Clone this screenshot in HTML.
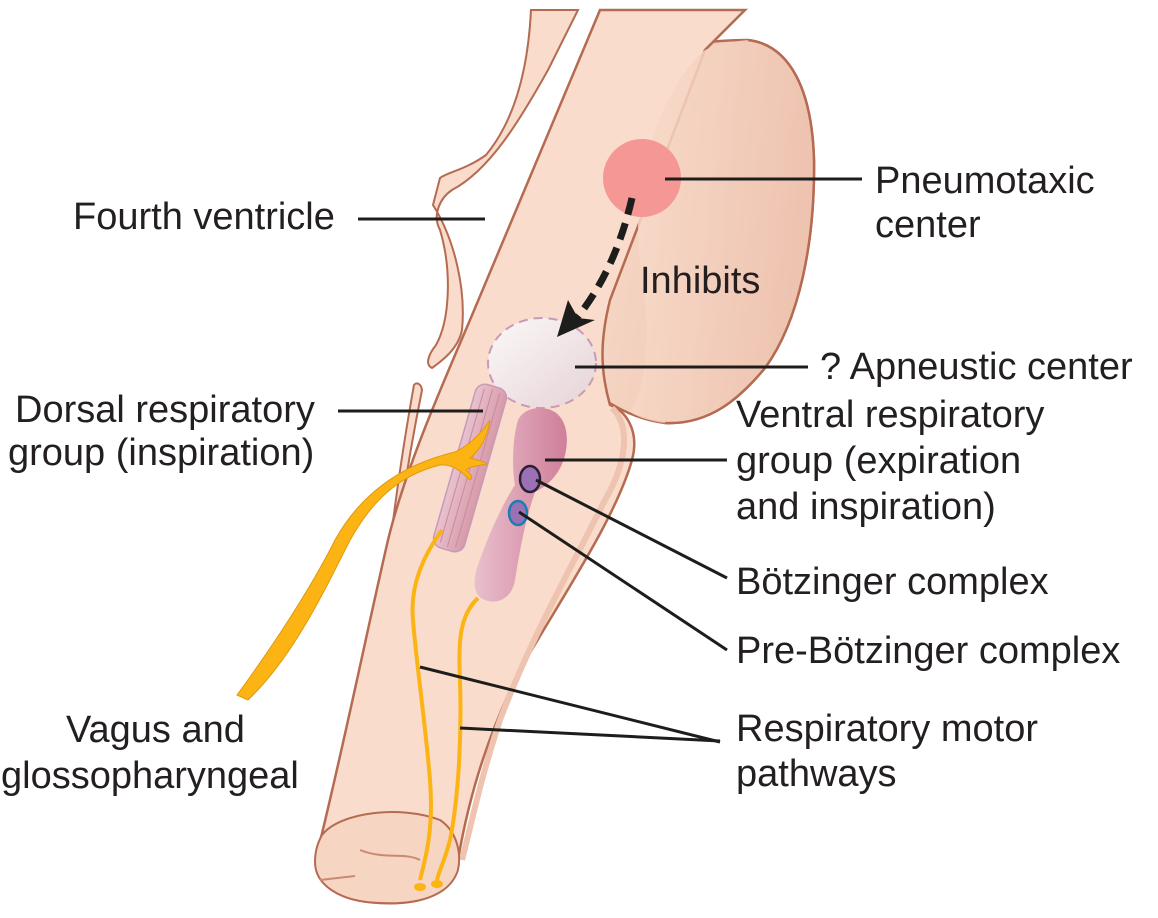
<!DOCTYPE html>
<html><head><meta charset="utf-8"><style>
html,body{margin:0;padding:0;background:#fff}
svg{display:block}
text{font-family:"Liberation Sans",Arial,sans-serif;font-size:38px;fill:#231f20}
</style></head><body>
<svg width="1158" height="918" viewBox="0 0 1158 918" xmlns="http://www.w3.org/2000/svg">
<defs>
<linearGradient id="pons" x1="0" y1="0" x2="1" y2="0.2">
<stop offset="0" stop-color="#f9dccb"/><stop offset="1" stop-color="#eec3b0"/></linearGradient>
<linearGradient id="apn" x1="0" y1="0" x2="1" y2="1">
<stop offset="0" stop-color="#fbf8f8"/><stop offset="1" stop-color="#e6d3d6"/></linearGradient>
<linearGradient id="vrg" x1="0" y1="0" x2="1" y2="0">
<stop offset="0" stop-color="#e9bfcc"/><stop offset="1" stop-color="#cf7f9a"/></linearGradient>
<linearGradient id="drg" x1="0" y1="0" x2="1" y2="0">
<stop offset="0" stop-color="#e9c2cf"/><stop offset="1" stop-color="#d79aa8"/></linearGradient>
</defs>

<path d="M531,10 C528,70 515,120 486,155 C465,170 448,172 440,178 L433,205 C455,240 466,290 462,330 C458,350 440,362 432,368 C425,365 428,355 436,345 C450,320 452,270 440,230 C432,215 440,198 452,190 C490,170 520,120 548,70 L578,10 Z" fill="#f9dccb" stroke="#b56b52" stroke-width="2"/>
<path d="M414,385 C404,440 392,520 382,615 C385,618 388,614 390,600 C398,520 410,450 422,390 C421,383 416,382 414,385 Z" fill="#f9dccb" stroke="#b56b52" stroke-width="2"/>

<path d="M690,45 C705,42 725,40 748,40 C790,45 812,90 814,160 C815,240 800,320 765,368 C740,398 710,425 665,423 C640,420 620,410 605,400 L560,300 L600,60 Z" fill="url(#pons)" stroke="#b56b52" stroke-width="2.5"/>

<path d="M600,10 C570,80 520,200 470,320 C440,390 405,470 388,540 C365,640 345,740 318,850 C315,880 330,900 380,903 C420,905 455,895 458,860 C470,790 490,730 520,670 C560,600 615,520 632,460 C640,430 625,410 610,405 C600,370 600,340 610,300 L705,50 L745,10 Z" fill="#f9dccb" stroke="#b56b52" stroke-width="2.5"/>
<path d="M612,408 C630,425 628,460 605,500 C570,570 530,640 500,720 C480,780 470,830 462,860" fill="none" stroke="#eec3b0" stroke-width="6"/>
<path d="M705,50 C720,44 735,41 748,40 C790,45 812,90 814,160 C815,240 800,320 765,368 C740,398 710,425 665,423 C650,421 640,418 630,412 C650,380 650,320 640,260 C630,180 660,90 705,50 Z" fill="url(#pons)" opacity="0.85"/>
<path d="M748,40 C790,45 812,90 814,160 C815,240 800,320 765,368 C740,398 710,425 665,423" fill="none" stroke="#b56b52" stroke-width="2.5"/>

<path d="M322,835 C340,812 400,805 440,820 C455,830 462,850 458,870 C450,895 420,905 380,903 C340,902 315,885 315,862 C315,850 318,842 322,835 Z" fill="#f7d5c3" stroke="#b56b52" stroke-width="2"/>
<path d="M320,880 L355,876 M360,850 C385,860 405,852 420,860" stroke="#c98a74" stroke-width="2" fill="none"/>

<circle cx="642" cy="178" r="39" fill="#f49795"/>

<ellipse cx="542" cy="363" rx="54" ry="45" fill="url(#apn)" stroke="#c99ab8" stroke-width="2" stroke-dasharray="9,6"/>

<g transform="translate(470,468) rotate(16)">
<rect x="-16" y="-85" width="32" height="170" rx="10" fill="url(#drg)" stroke="#c79ab8" stroke-width="1.5"/>
<path d="M-8,-80 L-8,80 M0,-82 L0,82 M8,-80 L8,80" stroke="#c98aa0" stroke-width="1" fill="none"/>
</g>

<path d="M540,408 C560,408 570,425 566,450 C563,470 550,485 535,492 C525,520 520,550 515,580 C512,598 498,605 485,600 C472,595 473,580 478,565 C490,530 505,500 515,485 C512,470 512,440 518,420 C522,412 530,408 540,408 Z" fill="url(#vrg)"/>
<ellipse cx="530" cy="479" rx="10" ry="13" fill="#9b70b5" stroke="#2a2233" stroke-width="2.5"/>
<ellipse cx="518" cy="513" rx="9" ry="12" fill="#9b70b5" stroke="#1a7fb0" stroke-width="2.5"/>

<path d="M237,695 C270,650 310,590 335,540 C360,495 400,465 455,452 C470,445 482,432 490,420 C487,440 478,452 470,458 C478,460 485,462 487,464 C478,466 470,466 466,470 C472,475 473,478 470,480 C460,470 452,464 440,465 C400,475 370,500 345,550 C320,600 290,660 248,700 Z" fill="#fbb413" stroke="#e09a10" stroke-width="1"/>

<path d="M442,530 C420,560 410,590 413,620 C416,660 425,720 430,780 C434,830 425,860 420,880" fill="none" stroke="#fbb413" stroke-width="4"/>
<path d="M478,598 C460,615 458,640 460,680 C462,740 458,800 450,840 C445,860 440,868 437,880" fill="none" stroke="#fbb413" stroke-width="4"/>
<ellipse cx="420" cy="887" rx="6" ry="4" fill="#fbb413"/>
<ellipse cx="437" cy="884" rx="6" ry="4" fill="#fbb413"/>

<path d="M632,198 C620,250 600,290 575,320" fill="none" stroke="#1d1d1b" stroke-width="7" stroke-dasharray="17,9"/>
<polygon points="557,337 568,300 578,318 595,320" fill="#1d1d1b"/>

<g stroke="#1d1d1b" stroke-width="3" fill="none">
<line x1="358" y1="219" x2="485" y2="219"/>
<line x1="665" y1="179" x2="862" y2="179"/>
<line x1="575" y1="367" x2="808" y2="367"/>
<line x1="338" y1="411" x2="483" y2="411"/>
<line x1="545" y1="460" x2="727" y2="460"/>
<line x1="536" y1="480" x2="727" y2="578"/>
<line x1="519" y1="512" x2="727" y2="650"/>
<line x1="420" y1="667" x2="720" y2="742"/>
<line x1="460" y1="728" x2="720" y2="741"/>
</g>

<text x="73" y="229">Fourth ventricle</text>
<text x="875" y="193">Pneumotaxic</text>
<text x="875" y="237">center</text>
<text x="640" y="293">Inhibits</text>
<text x="820" y="379">? Apneustic center</text>
<text x="15" y="422">Dorsal respiratory</text>
<text x="8" y="465">group (inspiration)</text>
<text x="736" y="427">Ventral respiratory</text>
<text x="736" y="473">group (expiration</text>
<text x="736" y="519">and inspiration)</text>
<text x="736" y="594">Bötzinger complex</text>
<text x="736" y="663">Pre-Bötzinger complex</text>
<text x="736" y="741">Respiratory motor</text>
<text x="736" y="786">pathways</text>
<text x="66" y="742">Vagus and</text>
<text x="1" y="788">glossopharyngeal</text>
</svg>
</body></html>
